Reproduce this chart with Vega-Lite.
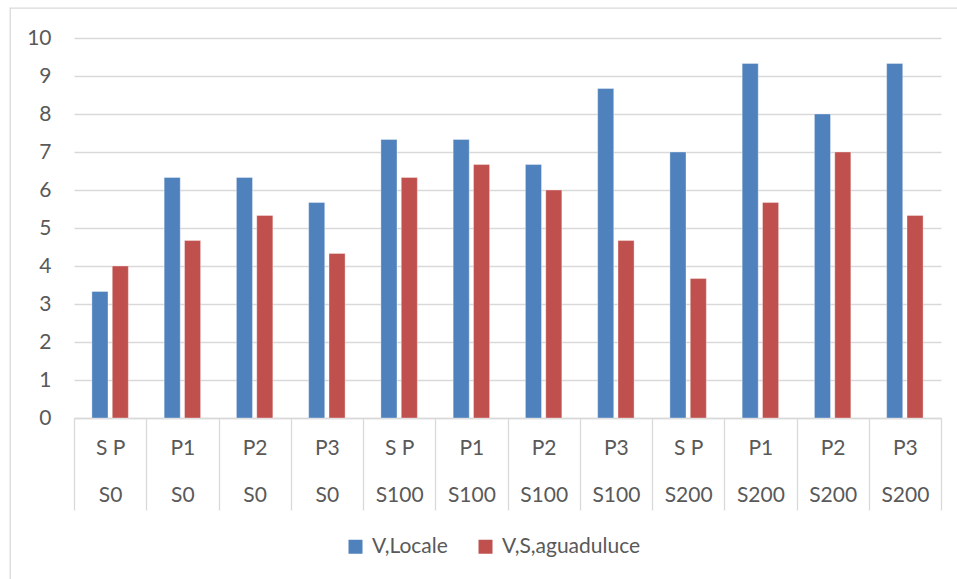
{
  "$schema": "https://vega.github.io/schema/vega-lite/v6.json",
  "autosize": {"type": "none"},
  "padding": {"left": 10, "top": 8, "right": 0, "bottom": 0},
  "width": 952,
  "height": 576,
  "background": "#ffffff",
  "config": {
    "font": "Lato",
    "view": {"stroke": "#d9d9d9", "strokeWidth": 1.3}
  },
  "data": {
    "values": [
      {"gruppo": "S P|S0", "serie": "V,Locale", "valore": 3.33},
      {"gruppo": "S P|S0", "serie": "V,S,aguaduluce", "valore": 4.0},
      {"gruppo": "P1|S0", "serie": "V,Locale", "valore": 6.33},
      {"gruppo": "P1|S0", "serie": "V,S,aguaduluce", "valore": 4.67},
      {"gruppo": "P2|S0", "serie": "V,Locale", "valore": 6.33},
      {"gruppo": "P2|S0", "serie": "V,S,aguaduluce", "valore": 5.33},
      {"gruppo": "P3|S0", "serie": "V,Locale", "valore": 5.67},
      {"gruppo": "P3|S0", "serie": "V,S,aguaduluce", "valore": 4.33},
      {"gruppo": "S P|S100", "serie": "V,Locale", "valore": 7.33},
      {"gruppo": "S P|S100", "serie": "V,S,aguaduluce", "valore": 6.33},
      {"gruppo": "P1|S100", "serie": "V,Locale", "valore": 7.33},
      {"gruppo": "P1|S100", "serie": "V,S,aguaduluce", "valore": 6.67},
      {"gruppo": "P2|S100", "serie": "V,Locale", "valore": 6.67},
      {"gruppo": "P2|S100", "serie": "V,S,aguaduluce", "valore": 6.0},
      {"gruppo": "P3|S100", "serie": "V,Locale", "valore": 8.67},
      {"gruppo": "P3|S100", "serie": "V,S,aguaduluce", "valore": 4.67},
      {"gruppo": "S P|S200", "serie": "V,Locale", "valore": 7.0},
      {"gruppo": "S P|S200", "serie": "V,S,aguaduluce", "valore": 3.67},
      {"gruppo": "P1|S200", "serie": "V,Locale", "valore": 9.33},
      {"gruppo": "P1|S200", "serie": "V,S,aguaduluce", "valore": 5.67},
      {"gruppo": "P2|S200", "serie": "V,Locale", "valore": 8.0},
      {"gruppo": "P2|S200", "serie": "V,S,aguaduluce", "valore": 7.0},
      {"gruppo": "P3|S200", "serie": "V,Locale", "valore": 9.33},
      {"gruppo": "P3|S200", "serie": "V,S,aguaduluce", "valore": 5.33}
    ]
  },
  "mark": {"type": "bar", "stroke": "#ffffff", "strokeOpacity": 0.35, "strokeWidth": 1},
  "encoding": {
    "x": {
      "field": "gruppo",
      "type": "nominal",
      "sort": null,
      "scale": {"range": [64, 931], "paddingInner": 0, "paddingOuter": 0},
      "axis": {
        "title": null,
        "orient": "bottom",
        "offset": -166,
        "labelAngle": 0,
        "labelExpr": "split(datum.label, '|')",
        "labelLineHeight": 47,
        "labelFont": "Lato",
        "labelFontSize": 21,
        "labelColor": "#595959",
        "labelBaseline": "top",
        "labelPadding": -73,
        "tickBand": "extent",
        "tickSize": 92,
        "tickColor": "#d9d9d9",
        "tickWidth": 1.3,
        "domainColor": "#d9d9d9",
        "domainWidth": 1.3,
        "grid": false
      }
    },
    "xOffset": {
      "field": "serie",
      "type": "nominal",
      "sort": ["V,Locale", "V,S,aguaduluce"],
      "scale": {"paddingInner": 0.21, "paddingOuter": 0.88}
    },
    "y": {
      "field": "valore",
      "type": "quantitative",
      "scale": {"domain": [0, 10], "nice": false, "range": [410, 30]},
      "axis": {
        "title": null,
        "orient": "left",
        "offset": -45,
        "values": [0, 1, 2, 3, 4, 5, 6, 7, 8, 9, 10],
        "domain": false,
        "ticks": false,
        "labelPadding": 4,
        "labelFont": "Lato",
        "labelFontSize": 21,
        "labelColor": "#595959",
        "grid": true,
        "gridColor": "#d9d9d9",
        "gridWidth": 1.3
      }
    },
    "color": {
      "field": "serie",
      "type": "nominal",
      "sort": ["V,Locale", "V,S,aguaduluce"],
      "scale": {"domain": ["V,Locale", "V,S,aguaduluce"], "range": ["#4f81bd", "#c0504d"]},
      "legend": {
        "title": null,
        "orient": "none",
        "direction": "horizontal",
        "legendX": 335,
        "legendY": 528,
        "symbolType": "square",
        "symbolSize": 196,
        "symbolStrokeWidth": 0,
        "symbolOpacity": 1,
        "labelFont": "Lato",
        "labelFontSize": 21,
        "labelColor": "#595959",
        "labelOffset": 6,
        "columnPadding": 27
      }
    }
  }
}
